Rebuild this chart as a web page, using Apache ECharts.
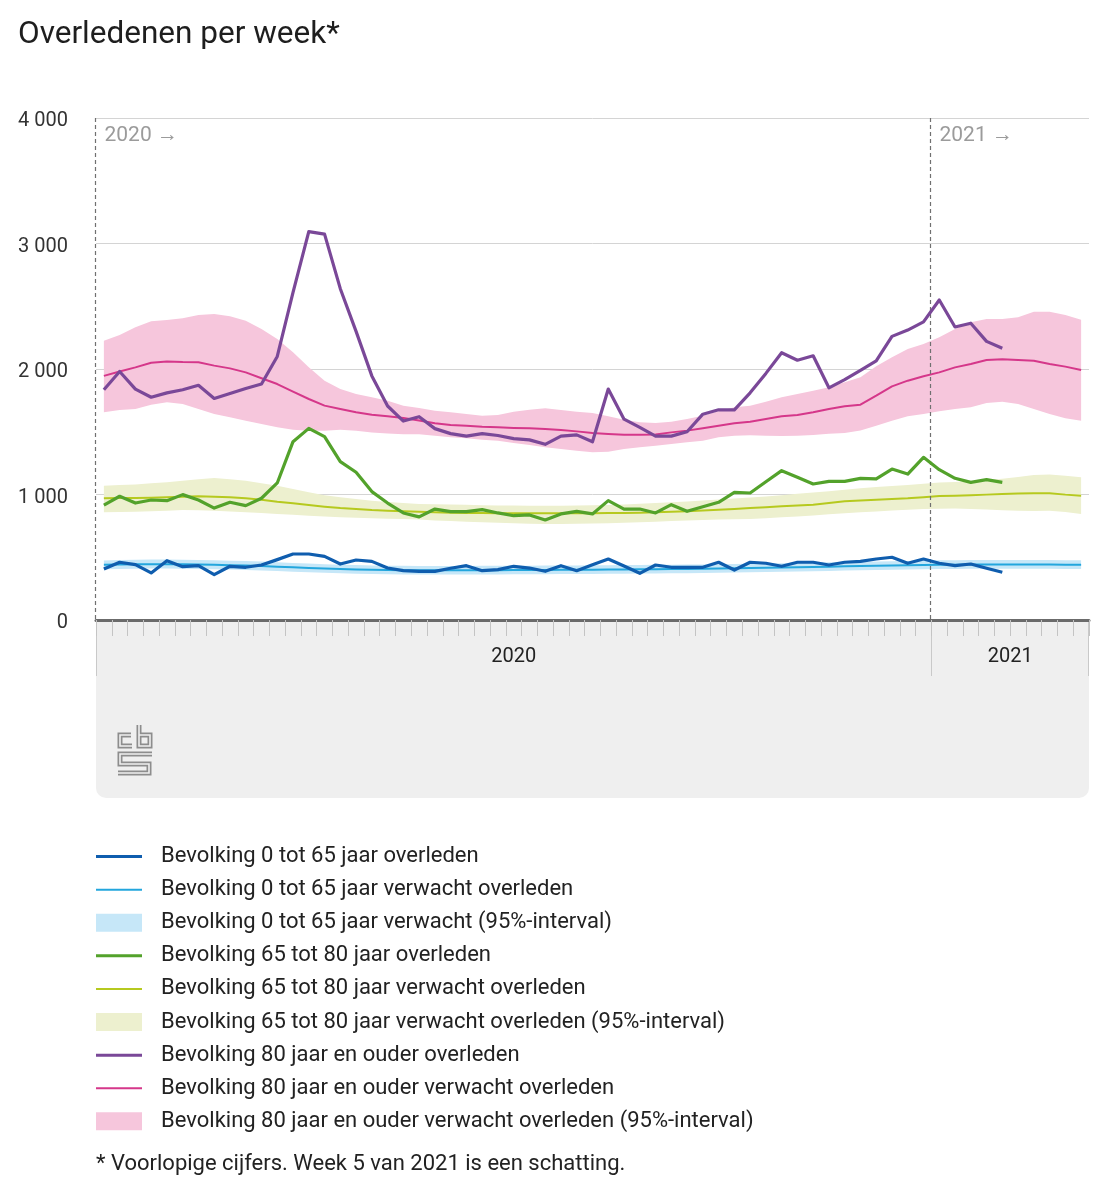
<!DOCTYPE html>
<html><head><meta charset="utf-8">
<script src="https://cdn.jsdelivr.net/npm/echarts@6/dist/echarts.min.js"></script>
<style>html,body{margin:0;padding:0;background:#fff}#c{width:1108px;height:1200px}</style>
</head><body><div id="c"></div>
<script>
// ---------- data ----------
const years = ['2020', '2021'];
const weeksPerYear = [53, 10];
const yTicks = [0, 1000, 2000, 3000, 4000];

const obs0 = [406,460,441,375,473,425,433,361,428,420, 438,481,526,526,507,446,478,467,414,393,
  388,388,412,433,393,401,428,414,388,433, 393,440,486,430,372,438,420,420,420,460,
  398,460,452,428,460,460,438,460,467,486, 500,452,486,
  452,433,446,412,380,null,null,null,null,null];
const exp0 = [440,442,444,445,445,444,442,440,437,434, 430,425,420,415,410,406,403,400,398,397,
  396,396,396,396,397,397,398,398,399,400, 400,401,402,403,404,405,406,407,408,410,
  412,414,416,418,420,422,425,428,430,432, 434,436,438,
  440,441,442,443,443,443,443,442,441,440];
const up0 = [475,478,480,482,482,481,479,476,473,470, 466,460,455,450,445,441,438,435,433,432,
  431,431,431,431,432,432,433,433,434,435, 435,436,437,438,439,440,441,442,443,445,
  447,449,451,453,455,457,460,463,465,467, 469,471,473,
  476,477,478,479,479,479,479,478,477,476];
const lo0 = [405,407,409,410,410,409,407,405,402,399, 395,390,385,380,376,372,369,366,364,363,
  362,362,362,362,363,363,364,364,365,366, 366,367,368,369,370,371,372,373,374,376,
  378,380,382,384,386,388,391,394,396,398, 400,402,404,
  406,407,408,409,409,409,409,408,407,406];

const obs65 = [916,986,932,956,951,999,956,892,938,911, 970,1092,1421,1527,1461,1262,1177,1023,932,853,
  822,884,863,863,879,853,831,837,797,845, 866,845,951,884,884,853,919,866,903,938,
  1017,1012,1102,1190,1137,1084,1105,1105,1129,1124, 1203,1163,1296,
  1198,1129,1097,1118,1097,null,null,null,null,null];
const exp65 = [970,972,972,975,978,983,986,983,978,970, 959,943,930,916,903,892,884,876,871,866,
  863,858,855,853,852,851,850,850,850,850, 850,851,852,853,855,858,862,867,872,878,
  885,892,899,906,912,919,932,946,952,959, 965,970,978,
  988,991,995,999,1004,1007,1010,1010,999,991];
const up65 = [1070,1075,1080,1089,1098,1110,1122,1131,1122,1110, 1090,1070,1043,1017,995,978,965,951,940,932,
  925,922,920,918,915,913,912,911,911,911, 912,914,917,921,926,932,938,945,952,960,
  968,976,985,995,1005,1015,1025,1038,1050,1060, 1068,1076,1085,
  1095,1100,1105,1115,1125,1140,1155,1160,1150,1137];
const lo65 = [858,860,862,866,871,876,874,871,865,858, 852,845,838,831,825,818,814,810,807,805,
  800,793,788,783,778,774,770,767,765,765, 766,768,771,775,779,783,788,793,797,800,
  803,805,810,818,825,833,842,850,858,865, 872,878,884,
  886,888,885,880,875,870,868,870,860,845];

const obs80 = [1835,1980,1840,1775,1810,1835,1870,1765,1805,1845, 1880,2100,2610,3095,3075,2640,2300,1945,1705,1585,
  1620,1525,1485,1465,1485,1470,1445,1435,1400,1465, 1475,1420,1840,1600,1535,1465,1465,1500,1640,1675,
  1675,1810,1965,2130,2070,2105,1850,1915,1990,2065, 2260,2310,2375,
  2550,2335,2365,2220,2165,null,null,null,null,null];
const exp80 = [1945,1980,2013,2050,2060,2055,2053,2027,2005,1973, 1926,1880,1819,1761,1708,1681,1655,1636,1623,1610,
  1590,1567,1554,1548,1540,1535,1530,1527,1522,1514, 1503,1490,1482,1476,1476,1479,1495,1509,1528,1548,
  1567,1580,1602,1623,1633,1655,1681,1703,1716,1787, 1862,1907,1942,
  1973,2013,2040,2072,2077,2072,2066,2040,2019,1992];
const up80 = [2226,2271,2332,2380,2390,2404,2430,2438,2420,2385, 2319,2239,2133,2013,1907,1841,1801,1774,1747,1708,
  1689,1668,1655,1641,1628,1633,1660,1676,1687,1673, 1660,1649,1623,1596,1575,1570,1580,1602,1628,1663,
  1695,1708,1740,1774,1801,1827,1854,1894,1934,2021, 2093,2159,2199,
  2253,2319,2372,2398,2398,2412,2457,2457,2430,2393];
const lo80 = [1655,1673,1681,1716,1735,1721,1681,1641,1615,1588, 1562,1535,1516,1508,1508,1516,1508,1495,1487,1480,
  1480,1469,1456,1448,1437,1429,1410,1394,1376,1363, 1349,1336,1341,1363,1376,1389,1402,1416,1429,1456,
  1469,1472,1468,1466,1469,1474,1485,1490,1509,1548, 1588,1623,1641,
  1663,1681,1695,1729,1740,1721,1681,1641,1607,1588];

const names = {
  obs0: 'Bevolking 0 tot 65 jaar overleden',
  exp0: 'Bevolking 0 tot 65 jaar verwacht overleden',
  band0: 'Bevolking 0 tot 65 jaar verwacht (95%-interval)',
  obs65: 'Bevolking 65 tot 80 jaar overleden',
  exp65: 'Bevolking 65 tot 80 jaar verwacht overleden',
  band65: 'Bevolking 65 tot 80 jaar verwacht overleden (95%-interval)',
  obs80: 'Bevolking 80 jaar en ouder overleden',
  exp80: 'Bevolking 80 jaar en ouder verwacht overleden',
  band80: 'Bevolking 80 jaar en ouder verwacht overleden (95%-interval)'
};
const titleText = 'Overledenen per week*';
const footText = '* Voorlopige cijfers. Week 5 van 2021 is een schatting.';

// ---------- build ----------
const categories = [];
years.forEach((y, i) => { for (let w = 1; w <= weeksPerYear[i]; w++) categories.push(y + ' week ' + w); });

const FONT = 'Roboto, "Noto Sans", sans-serif';
const gridLeft = 96, gridRight = 19, gridTop = 118, gridBottom = 580;
const W = 1108, H = 1200;
const gridW = W - gridLeft - gridRight;
const gridBottomY = H - gridBottom;
const bandW = gridW / categories.length;

const col = {
  obs0: '#0f5dae', exp0: '#23a6dd', band0: '#c6e7f8',
  obs65: '#53a22b', exp65: '#b6c91f', band65: '#edf0cf',
  obs80: '#7a4898', exp80: '#d5378a', band80: '#f6c6dc'
};

function band(key, lo, up) {
  return [
    { name: key + '_base', type: 'line', stack: key, data: lo, symbol: 'none', silent: true,
      lineStyle: { width: 0, opacity: 0 }, z: 1 },
    { name: names[key], type: 'line', stack: key, data: up.map((v, i) => v - lo[i]), symbol: 'none', silent: true,
      lineStyle: { width: 0, opacity: 0 }, itemStyle: { color: col[key] },
      areaStyle: { color: col[key], opacity: 1 }, z: 1 }
  ];
}
function line(key, data, width, z) {
  return { name: names[key], type: 'line', data: data, symbol: 'none', silent: true,
    itemStyle: { color: col[key] }, lineStyle: { color: col[key], width: width, join: 'round' }, z: z };
}

const series = [].concat(
  band('band80', lo80, up80), band('band65', lo65, up65), band('band0', lo0, up0),
  [line('exp80', exp80, 2, 2), line('exp65', exp65, 2, 2), line('exp0', exp0, 2, 2),
   line('obs80', obs80, 3.2, 3), line('obs65', obs65, 3.2, 3), line('obs0', obs0, 3.2, 3)]
);

const thick = 'path://M0,0L0.01,0L0.01,0.01Z M0,7.5L46,7.5L46,10.5L0,10.5Z M0,17.99L0.01,17.99L0.01,18Z';
const thin = 'path://M0,0L0.01,0L0.01,0.01Z M0,8L46,8L46,10L0,10Z M0,17.99L0.01,17.99L0.01,18Z';
const legendData = [
  { name: names.obs0, icon: thick }, { name: names.exp0, icon: thin }, { name: names.band0, icon: 'rect' },
  { name: names.obs65, icon: thick }, { name: names.exp65, icon: thin }, { name: names.band65, icon: 'rect' },
  { name: names.obs80, icon: thick }, { name: names.exp80, icon: thin }, { name: names.band80, icon: 'rect' }
];

// year label positions (middle category of each year)
const yearMid = [];
let acc = 0;
years.forEach((y, i) => {
  const n = weeksPerYear[i];
  yearMid.push({ idx: acc + Math.floor((n - 1) / 2), half: n % 2 === 0, text: y, start: acc });
  acc += n;
});

function fmtThousands(v) { return String(v).replace(/\B(?=(\d{3})+(?!\d))/g, ' '); }

// graphic decorations
const graphics = [];
graphics.push({ type: 'rect', z: -10, silent: true,
  shape: { x: gridLeft, y: gridBottomY, width: gridW, height: 178, r: [0, 0, 10, 10] },
  style: { fill: '#efefef' } });
const sepXs = [gridLeft + 0.5];
yearMid.forEach((ym, i) => { if (i > 0) sepXs.push(Math.round(gridLeft + ym.start * bandW) + 0.5); });
sepXs.concat([gridLeft + gridW - 0.5]).forEach(x => {
  graphics.push({ type: 'line', z: -5, silent: true,
    shape: { x1: x, y1: gridBottomY + 1, x2: x, y2: gridBottomY + 56 },
    style: { stroke: '#c9c9c9', lineWidth: 1 } });
});
sepXs.forEach((x, i) => {
  graphics.push({ type: 'line', z: 2.5, silent: true,
    shape: { x1: x - 1, y1: gridTop, x2: x - 1, y2: gridBottomY - 1 },
    style: { stroke: '#707070', lineWidth: 1.2, lineDash: [4, 3] } });
  graphics.push({ type: 'text', z: 2.5, silent: true,
    style: { text: years[i] + ' \u2192', x: x + 8, y: gridTop + 18, fill: '#9b9b9b',
      fontSize: 21, fontFamily: FONT, align: 'left', verticalAlign: 'middle' } });
});
// CBS logo
const logoPaths = [
  [[14, 11], [3, 11], [3, 22], [15, 22]],
  [[22, 1], [22, 22], [33, 22], [33, 11], [22, 11]],
  [[35, 30], [3, 30], [3, 40], [32, 40], [32, 49], [1, 49]]
];
const logoChildren = [];
logoPaths.forEach(p => logoChildren.push({ type: 'polyline', shape: { points: p },
  style: { stroke: '#8d8d8d', lineWidth: 5, fill: null, lineJoin: 'miter' } }));
logoPaths.forEach(p => logoChildren.push({ type: 'polyline', shape: { points: p },
  style: { stroke: '#efefef', lineWidth: 1.6, fill: null, lineJoin: 'miter' } }));
graphics.push({ type: 'group', x: 117, y: 724, z: -4, silent: true, children: logoChildren });

const chart = echarts.init(document.getElementById('c'), null, { renderer: 'canvas', width: W, height: H });
chart.setOption({
  animation: false,
  backgroundColor: '#ffffff',
  textStyle: { fontFamily: FONT },
  title: [
    { text: titleText, left: 18, top: 19, padding: 0,
      textStyle: { fontSize: 31.5, fontWeight: 'normal', color: '#1e1e1e', fontFamily: FONT } },
    { text: footText, left: 96, top: 1153, padding: 0,
      textStyle: { fontSize: 22, fontWeight: 'normal', color: '#222', fontFamily: FONT } }
  ],
  legend: {
    orient: 'vertical', left: 96, top: 840, padding: 0, itemGap: 0,
    itemWidth: 46, itemHeight: 18, selectedMode: false,
    itemStyle: { borderWidth: 0 },
    textStyle: { fontSize: 22, color: '#222', lineHeight: 33.1, padding: [0, 0, 0, 14], fontFamily: FONT },
    data: legendData
  },
  grid: { left: gridLeft, right: gridRight, top: gridTop, bottom: gridBottom, containLabel: false, outerBoundsMode: 'none' },
  xAxis: {
    type: 'category', data: categories, boundaryGap: true,
    axisLine: { show: true, lineStyle: { color: '#6b6b6b', width: 3 } },
    axisTick: { show: true, interval: 0, length: 16, lineStyle: { color: '#c4c4c4', width: 1 } },
    splitLine: { show: false },
    axisLabel: {
      interval: 0, margin: 27, fontSize: 20, color: '#222', fontFamily: FONT,
      formatter: function (v, idx) {
        for (const ym of yearMid) if (ym.idx === idx) return ym.half ? '{h|' + ym.text + '}' : '{n|' + ym.text + '}';
        return '';
      },
      rich: {
        n: { fontSize: 20, color: '#222', fontFamily: FONT },
        h: { fontSize: 20, color: '#222', fontFamily: FONT, padding: [0, 0, 0, Math.round(bandW)] }
      }
    }
  },
  yAxis: {
    type: 'value', min: yTicks[0], max: yTicks[yTicks.length - 1], interval: yTicks[1] - yTicks[0],
    axisLine: { show: false }, axisTick: { show: false },
    splitLine: { show: true, lineStyle: { color: '#d4d4d4', width: 1 } },
    axisLabel: { fontSize: 20, color: '#333', margin: 28, fontFamily: FONT,
      formatter: v => '{a|' + fmtThousands(v) + '}',
      rich: { a: { fontSize: 20, color: '#333', fontFamily: FONT, padding: [6, 0, 0, 0] } } }
  },
  tooltip: { show: false },
  series: series,
  graphic: { elements: graphics }
});
</script></body></html>
